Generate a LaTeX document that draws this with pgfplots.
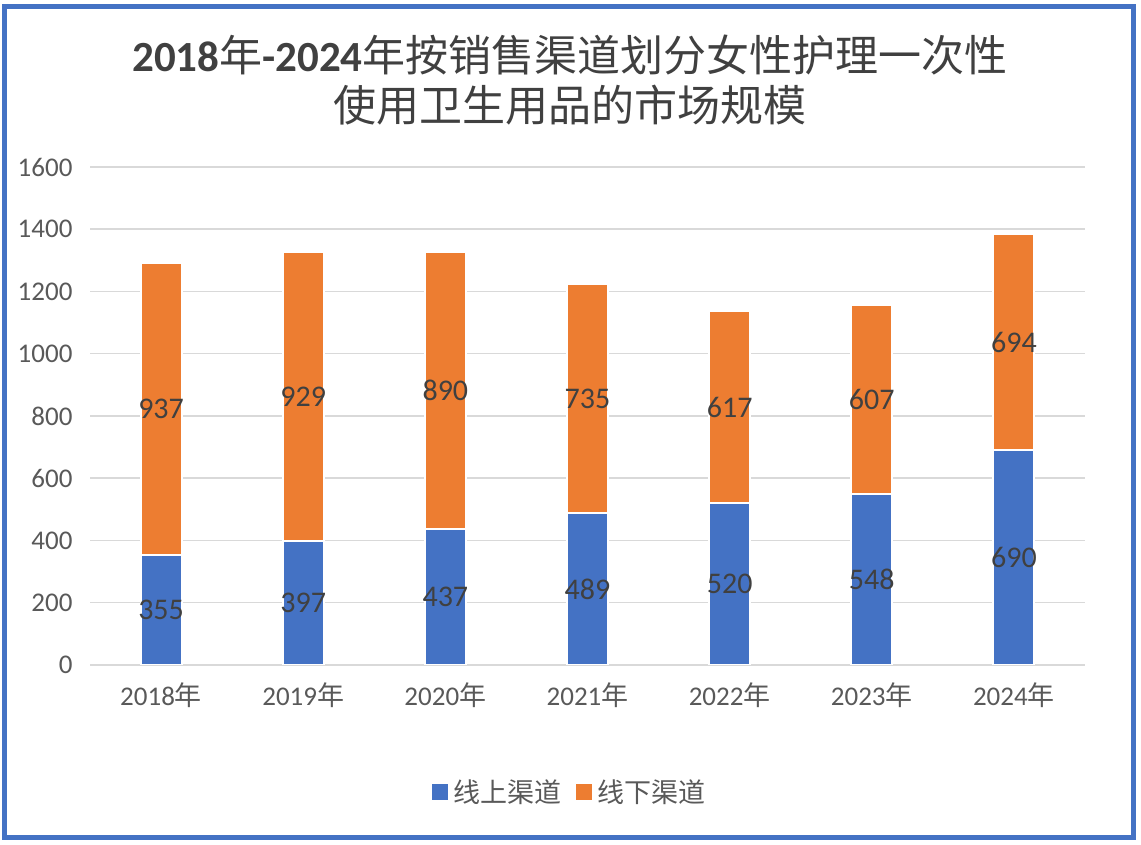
\documentclass[border=0pt]{standalone}
\usepackage{pgfplots}
\pgfplotsset{compat=1.18}
\usepackage{fontspec}
\setmainfont{Carlito}
\newfontfamily\cjk{Noto Sans CJK SC}
\definecolor{cblue}{HTML}{4472C4}
\definecolor{corange}{HTML}{ED7D31}
\definecolor{tgray}{HTML}{595959}
\definecolor{dgray}{HTML}{404040}
\definecolor{ggray}{HTML}{D9D9D9}
\begin{document}
\begin{tikzpicture}[x=1pt,y=1pt]
\path[use as bounding box] (0,0) rectangle (1141,845);
\draw[cblue, line width=5pt] (4.5,7.5) rectangle (1133.5,838);
\node[dgray, align=center, font=\fontsize{43}{50}\selectfont] at (570,765)
  {\textbf{2018}{\cjk 年}\textbf{-2024}{\cjk 年按销售渠道划分女性护理一次性}\\
   {\cjk 使用卫生用品的市场规模}};
\begin{axis}[
  at={(90pt,180pt)}, anchor=south west,
  scale only axis, width=995pt, height=498pt,
  xmin=-0.5, xmax=6.5, ymin=0, ymax=1600,
  ybar stacked, bar width=41pt,
  axis line style={draw=none},
  tick style={draw=none},
  ytick={0,200,...,1600},
  ymajorgrids, grid style={ggray, line width=1.5pt},
  xtick={0,...,6},
  xticklabels={{2018\cjk 年},{2019\cjk 年},{2020\cjk 年},{2021\cjk 年},{2022\cjk 年},{2023\cjk 年},{2024\cjk 年}},
  tick label style={tgray, font=\fontsize{27}{32}\selectfont},
  /pgf/number format/assume math mode=true,
  /pgf/number format/1000 sep={},
  yticklabel style={xshift=-14pt},
  xticklabel style={yshift=-14pt},
  nodes near coords,
  point meta=explicit,
  every node near coord/.append style={anchor=center, dgray, font=\fontsize{30}{34}\selectfont},
  legend style={at={(0.482,-0.255)}, anchor=center, draw=none, legend columns=-1,
    font=\fontsize{27}{30}\selectfont\cjk, text=tgray,
    /tikz/every even column/.append style={column sep=12pt},
    /tikz/every odd column/.append style={column sep=4pt}},
  legend image code/.code={\fill[#1, draw=none] (0pt,-8pt) rectangle (16pt,8pt);},
]
\addplot[fill=cblue, draw=white, line width=2pt] table[meta=y] {
x y
0 355
1 397
2 437
3 489
4 520
5 548
6 690
};
\addplot[fill=corange, draw=white, line width=2pt] table[meta=y] {
x y
0 937
1 929
2 890
3 735
4 617
5 607
6 694
};
\legend{线上渠道,线下渠道}
\end{axis}
\end{tikzpicture}
\end{document}
